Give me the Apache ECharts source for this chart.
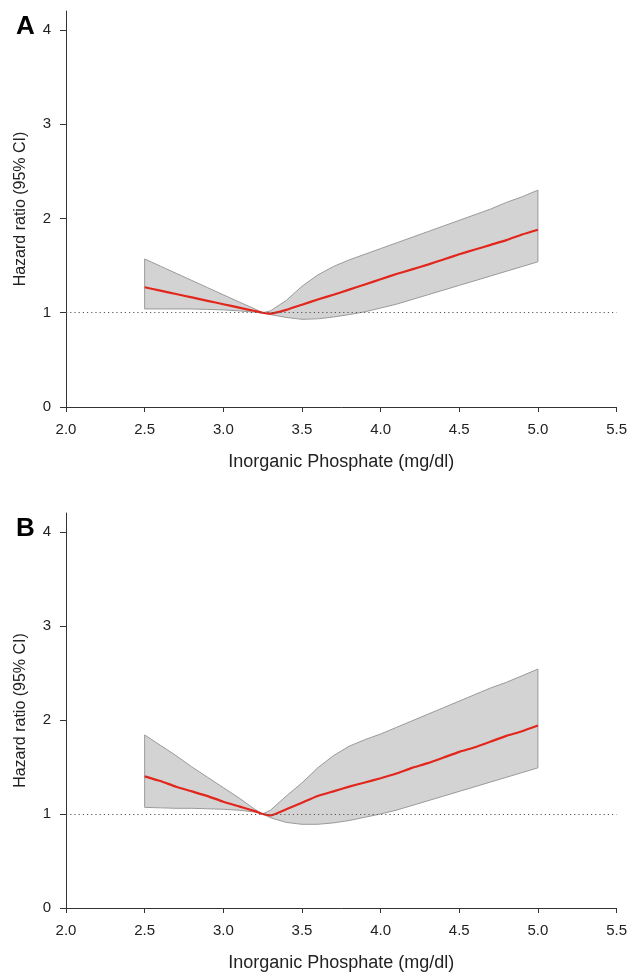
<!DOCTYPE html>
<html lang="en">
<head>
<meta charset="utf-8">
<title>Hazard ratio vs inorganic phosphate</title>
<script src="https://cdn.jsdelivr.net/npm/echarts@6/dist/echarts.min.js"></script>
<style>
  html, body { margin: 0; padding: 0; background: #fff; }
  #chart { width: 630px; height: 973px; }
</style>
</head>
<body>
<div id="chart"></div>
<script>
var phosphate = [2.5, 2.6, 2.7, 2.8, 2.9, 3.0, 3.1, 3.2, 3.25, 3.3, 3.4, 3.5, 3.6, 3.7, 3.8, 3.9,
                 4.0, 4.1, 4.2, 4.3, 4.4, 4.5, 4.6, 4.7, 4.8, 4.9, 5.0];

// panel A
var lowerA = [1.04, 1.04, 1.04, 1.04, 1.035, 1.03, 1.02, 1.005, 1.0, 0.98, 0.95, 0.93, 0.935, 0.955, 0.98, 1.01,
              1.05, 1.09, 1.14, 1.19, 1.24, 1.29, 1.34, 1.39, 1.44, 1.49, 1.54];
var hrA    = [1.27, 1.234, 1.198, 1.162, 1.126, 1.09, 1.054, 1.018, 1.0, 0.99, 1.03, 1.085, 1.14, 1.19, 1.245, 1.30,
              1.355, 1.41, 1.46, 1.51, 1.565, 1.62, 1.67, 1.72, 1.77, 1.83, 1.88];
var upperA = [1.57, 1.494, 1.418, 1.342, 1.266, 1.19, 1.114, 1.04, 1.0, 1.02, 1.13, 1.28, 1.40, 1.49, 1.56, 1.62,
              1.68, 1.74, 1.80, 1.86, 1.92, 1.98, 2.04, 2.10, 2.17, 2.23, 2.30];

// panel B
var lowerB = [1.07, 1.065, 1.06, 1.06, 1.055, 1.05, 1.04, 1.02, 1.0, 0.96, 0.91, 0.89, 0.89, 0.905, 0.93, 0.965,
              1.0, 1.04, 1.09, 1.14, 1.19, 1.24, 1.29, 1.34, 1.39, 1.44, 1.49];
var hrB    = [1.40, 1.35, 1.29, 1.24, 1.19, 1.13, 1.08, 1.03, 1.0, 0.985, 1.05, 1.12, 1.19, 1.24, 1.29, 1.335,
              1.38, 1.43, 1.49, 1.54, 1.60, 1.66, 1.71, 1.77, 1.83, 1.88, 1.94];
var upperB = [1.84, 1.73, 1.62, 1.50, 1.39, 1.28, 1.17, 1.05, 1.0, 1.04, 1.19, 1.33, 1.49, 1.62, 1.72, 1.79,
              1.85, 1.92, 1.99, 2.06, 2.13, 2.20, 2.27, 2.34, 2.40, 2.47, 2.54];

var yTicks = [0, 1, 2, 3, 4];
var refValue = 1;
var panelLetters = ['A', 'B'];
var xTitle = 'Inorganic Phosphate (mg/dl)';
var yTitle = 'Hazard ratio (95% CI)';

var FONT = '"Liberation Sans", Arial, sans-serif';
var AXIS_COLOR = '#333';
var TEXT_COLOR = '#222';

var chart = echarts.init(document.getElementById('chart'));

function pairs(xs, ys) {
  return xs.map(function (x, i) { return [x, ys[i]]; });
}

function xAxisFor(i) {
  return {
    gridIndex: i, type: 'value', min: 2, max: 5.5, interval: 0.5,
    name: xTitle, nameLocation: 'middle', nameGap: 46,
    nameTextStyle: { fontFamily: FONT, fontSize: 18, color: TEXT_COLOR },
    axisLine: { lineStyle: { color: AXIS_COLOR, width: 1 } },
    axisTick: { show: true, length: 5, lineStyle: { color: AXIS_COLOR } },
    axisLabel: { margin: 15, fontFamily: FONT, fontSize: 15, color: TEXT_COLOR,
                 formatter: function (v) { return v.toFixed(1); } },
    splitLine: { show: false }
  };
}

function yAxisFor(i) {
  return {
    gridIndex: i, type: 'value', min: 0, max: 4.2,
    name: yTitle, nameLocation: 'middle', nameGap: 37,
    nameTextStyle: { fontFamily: FONT, fontSize: 16, color: TEXT_COLOR },
    axisLine: { show: true, lineStyle: { color: AXIS_COLOR, width: 1 } },
    axisTick: { show: true, length: 6, customValues: yTicks, lineStyle: { color: AXIS_COLOR } },
    axisLabel: { margin: 15, fontFamily: FONT, fontSize: 15, color: TEXT_COLOR, customValues: yTicks },
    splitLine: { show: false }
  };
}

// grey confidence band drawn as one polygon through the axis scales
function bandSeries(i, lo, hi) {
  return {
    type: 'custom', xAxisIndex: i, yAxisIndex: i, silent: true, z: 1,
    data: phosphate.map(function (x, k) { return [x, lo[k], hi[k]]; }),
    encode: { x: 0, y: [1, 2] },
    renderItem: function (params, api) {
      if (params.dataIndex !== 0) return null;
      var pts = [];
      for (var k = 0; k < phosphate.length; k++) pts.push(api.coord([phosphate[k], hi[k]]));
      for (var k = phosphate.length - 1; k >= 0; k--) pts.push(api.coord([phosphate[k], lo[k]]));
      return {
        type: 'polygon',
        shape: { points: pts },
        style: { fill: '#d3d3d3', stroke: '#9a9a9a', lineWidth: 1 }
      };
    }
  };
}

function hrSeries(i, hr) {
  return {
    type: 'line', xAxisIndex: i, yAxisIndex: i, z: 3,
    data: pairs(phosphate, hr),
    showSymbol: false, smooth: 0.15,
    lineStyle: { color: '#e3261c', width: 2.2 },
    markLine: {
      silent: true, symbol: 'none', label: { show: false },
      lineStyle: { color: '#555', width: 1, type: [1.2, 3] },
      data: [{ yAxis: refValue }]
    }
  };
}

var option = {
  backgroundColor: '#fff',
  animation: false,
  title: [
    { text: panelLetters[0], left: 11, top: 9,
      textStyle: { fontFamily: FONT, fontSize: 26, fontWeight: 'bold', color: '#000' } },
    { text: panelLetters[1], left: 11, top: 511,
      textStyle: { fontFamily: FONT, fontSize: 26, fontWeight: 'bold', color: '#000' } }
  ],
  grid: [
    { left: 66, right: 12, top: 11, height: 396 },
    { left: 66, right: 12, top: 513, height: 396 }
  ],
  xAxis: [xAxisFor(0), xAxisFor(1)],
  yAxis: [yAxisFor(0), yAxisFor(1)],
  series: [
    bandSeries(0, lowerA, upperA),
    hrSeries(0, hrA),
    bandSeries(1, lowerB, upperB),
    hrSeries(1, hrB)
  ]
};

chart.setOption(option);
</script>
</body>
</html>
